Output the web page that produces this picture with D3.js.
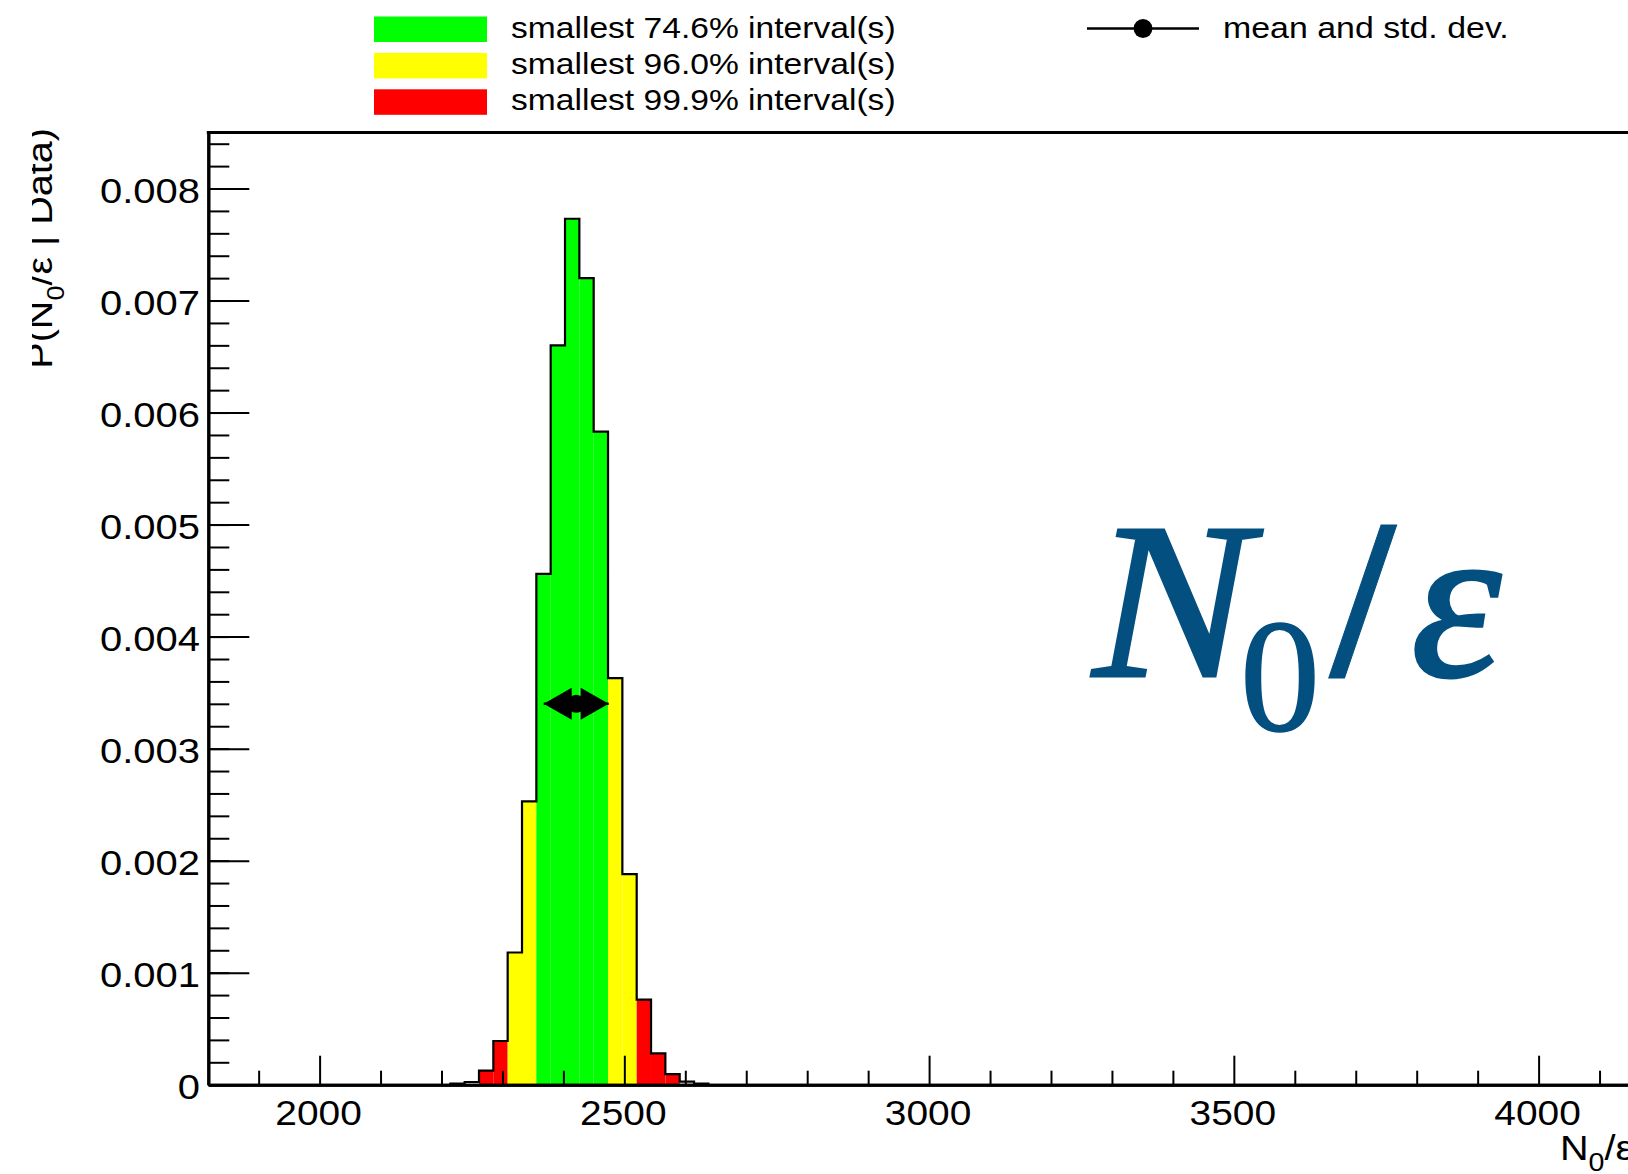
<!DOCTYPE html>
<html>
<head>
<meta charset="utf-8">
<script src="https://cdn.jsdelivr.net/npm/d3@7"></script>
<style>
    body { margin: 0; background: #fff; }
    svg { display: block; }
    text.sans { font-family: "Liberation Sans", Arial, Helvetica, sans-serif; fill: #000; }
    text.big { font-family: "Liberation Serif", "Times New Roman", serif; fill: #034f80; stroke: #034f80; }
</style>
</head>
<body>
<svg id="chart" width="1628" height="1174"></svg>
<script>
// histogram of the posterior
var binStart = 2214.5;
var binWidth = 23.52;
var binValues = [0.00001, 0.000024, 0.000125, 0.00039, 0.00118, 0.00253, 0.00456, 0.0066, 0.00773,
                 0.0072, 0.00583, 0.00363, 0.00188, 0.00076, 0.00028, 0.000095, 0.000027, 0.00001];
// which interval each bin belongs to (-1 = none)
var binBand = [-1, -1, 2, 2, 1, 1, 0, 0, 0, 0, 0, 1, 1, 2, 2, 2, -1, -1];

var bandNames = ["smallest 74.6% interval(s)", "smallest 96.0% interval(s)", "smallest 99.9% interval(s)"];
var bandColors = ["#00ff00", "#ffff00", "#ff0000"];

var meanValue = 2421;
var stdDev = 53.3;
var markerLevel = 0.0034;

var xMajorTicks = [2000, 2500, 3000, 3500, 4000];
var xMinorTicks = [1900, 2100, 2200, 2300, 2400, 2600, 2700, 2800, 2900, 3100, 3200, 3300, 3400, 3600, 3700, 3800, 3900, 4100];
var yMajorTicks = [0, 0.001, 0.002, 0.003, 0.004, 0.005, 0.006, 0.007, 0.008];
var yTickLabels = ["0", "0.001", "0.002", "0.003", "0.004", "0.005", "0.006", "0.007", "0.008"];
var yMinorTicks = d3.range(0, 0.0085, 0.0002);

var svg = d3.select("#chart");

var plotLeft = 208.3, plotRight = 1641.6, plotTop = 132.5, plotBottom = 1084.7;

var x = d3.scaleLinear().domain([1817.4, 4169]).range([plotLeft, plotRight]);
var y = d3.scaleLinear().domain([0, 0.0085]).range([plotBottom, plotTop]);

// coloured interval fills
var bins = svg.append("g");
binValues.forEach(function (v, i) {
    if (binBand[i] < 0) return;
    var lo = binStart + i * binWidth;
    bins.append("rect")
        .attr("x", x(lo))
        .attr("y", y(v))
        .attr("width", x(lo + binWidth) - x(lo))
        .attr("height", y(0) - y(v))
        .attr("fill", bandColors[binBand[i]]);
});

// histogram outline
var pts = [[binStart, 0]];
binValues.forEach(function (v, i) {
    pts.push([binStart + i * binWidth, v]);
});
pts.push([binStart + binValues.length * binWidth, binValues[binValues.length - 1]]);
pts.push([binStart + binValues.length * binWidth, 0]);

var outline = d3.line()
    .x(function (d) { return x(d[0]); })
    .y(function (d) { return y(d[1]); })
    .curve(d3.curveStepAfter);

svg.append("path")
    .attr("d", outline(pts))
    .attr("fill", "none")
    .attr("stroke", "#000")
    .attr("stroke-width", 2.2);

// axes (ticks pointing inside)
function styleAxis(g, w) {
    g.selectAll("path").attr("stroke", "#000").attr("stroke-width", 3);
    g.selectAll("line").attr("stroke", "#000").attr("stroke-width", w);
}

svg.append("g")
    .attr("transform", "translate(0," + plotBottom + ")")
    .call(d3.axisBottom(x).tickValues(xMinorTicks).tickSize(-14).tickSizeOuter(0).tickFormat(""))
    .call(styleAxis, 2);
svg.append("g")
    .attr("transform", "translate(0," + plotBottom + ")")
    .call(d3.axisBottom(x).tickValues(xMajorTicks).tickSize(-29).tickSizeOuter(0).tickFormat(""))
    .call(styleAxis, 2);

svg.append("g")
    .attr("transform", "translate(" + plotLeft + ",0)")
    .call(d3.axisLeft(y).tickValues(yMinorTicks).tickSize(-21).tickSizeOuter(0).tickFormat(""))
    .call(styleAxis, 2);
svg.append("g")
    .attr("transform", "translate(" + plotLeft + ",0)")
    .call(d3.axisLeft(y).tickValues(yMajorTicks).tickSize(-41).tickSizeOuter(0).tickFormat(""))
    .call(styleAxis, 2);

// frame top
svg.append("line")
    .attr("x1", plotLeft - 1.5).attr("x2", plotRight)
    .attr("y1", plotTop).attr("y2", plotTop)
    .attr("stroke", "#000").attr("stroke-width", 3);

// tick labels
xMajorTicks.forEach(function (t) {
    svg.append("text").attr("class", "sans")
        .attr("transform", "translate(" + (x(t) - 1) + "," + (plotBottom + 40) + ") scale(1.08,1)")
        .attr("text-anchor", "middle")
        .attr("font-size", 36)
        .text(t);
});
yMajorTicks.forEach(function (t, i) {
    svg.append("text").attr("class", "sans")
        .attr("transform", "translate(200," + (y(t) + 14) + ") scale(1.11,1)")
        .attr("text-anchor", "end")
        .attr("font-size", 36)
        .text(yTickLabels[i]);
});

// x axis title
var xt = svg.append("text").attr("class", "sans")
    .attr("transform", "translate(1560,1160) scale(1.1,1)")
    .attr("font-size", 36);
xt.append("tspan").text("N");
xt.append("tspan").attr("font-size", 26).attr("dy", 11).text("0");
xt.append("tspan").attr("dy", -11).text("/\u03b5");

// y axis title, clipped on the left like the original
svg.append("defs").append("clipPath").attr("id", "titleClip")
    .append("rect").attr("x", 32).attr("y", 0).attr("width", 200).attr("height", 600);
var yt = svg.append("g").attr("clip-path", "url(#titleClip)")
    .append("text").attr("class", "sans")
    .attr("transform", "translate(52,128) rotate(-90) scale(1.13,1)")
    .attr("text-anchor", "end")
    .attr("font-size", 35);
yt.append("tspan").text("P(N");
yt.append("tspan").attr("font-size", 24).attr("dy", 12).text("0");
yt.append("tspan").attr("dy", -12).text("/\u03b5 | Data)");

// mean and std. dev. marker
var my = y(markerLevel);
var xl = x(meanValue - stdDev), xr = x(meanValue + stdDev), xm = x(meanValue);
svg.append("line")
    .attr("x1", xl).attr("x2", xr).attr("y1", my).attr("y2", my)
    .attr("stroke", "#000").attr("stroke-width", 2.5);
svg.append("path")
    .attr("d", "M" + xl + "," + my + "L" + (xl + 28) + "," + (my - 16) + "L" + (xl + 28) + "," + (my + 16) + "Z")
    .attr("fill", "#000");
svg.append("path")
    .attr("d", "M" + xr + "," + my + "L" + (xr - 28) + "," + (my - 16) + "L" + (xr - 28) + "," + (my + 16) + "Z")
    .attr("fill", "#000");
svg.append("circle").attr("cx", xm).attr("cy", my).attr("r", 9).attr("fill", "#000");

// legend
bandNames.forEach(function (name, i) {
    svg.append("rect")
        .attr("x", 374).attr("y", 16.5 + i * 36.4)
        .attr("width", 113).attr("height", 25.5)
        .attr("fill", bandColors[i]);
    svg.append("text").attr("class", "sans")
        .attr("transform", "translate(511," + (37.5 + i * 36.3) + ") scale(1.12,1)")
        .attr("font-size", 30)
        .text(name);
});
svg.append("line")
    .attr("x1", 1087).attr("x2", 1199).attr("y1", 28.5).attr("y2", 28.5)
    .attr("stroke", "#000").attr("stroke-width", 2.5);
svg.append("circle").attr("cx", 1143).attr("cy", 28.5).attr("r", 9.4).attr("fill", "#000");
svg.append("text").attr("class", "sans")
    .attr("transform", "translate(1223,37.5) scale(1.13,1)")
    .attr("font-size", 30)
    .text("mean and std. dev.");

// big parameter label
var big = svg.append("g");
big.append("text").attr("class", "big")
    .attr("transform", "translate(1093,676) scale(1.07,1)")
    .attr("font-style", "italic")
    .attr("font-size", 222)
    .attr("stroke-width", 3)
    .text("N");
big.append("text").attr("class", "big")
    .attr("x", 1240).attr("y", 730)
    .attr("font-size", 160)
    .attr("stroke-width", 1.5)
    .text("0");
big.append("text").attr("class", "big")
    .attr("x", 1331).attr("y", 676)
    .attr("font-weight", "bold")
    .attr("font-size", 228)
    .attr("stroke-width", 1)
    .text("/");
big.append("text").attr("class", "big")
    .attr("transform", "translate(1411,676) scale(1.03,1)")
    .attr("font-style", "italic")
    .attr("font-size", 222)
    .attr("stroke-width", 3)
    .text("\u03b5");
</script>
</body>
</html>
